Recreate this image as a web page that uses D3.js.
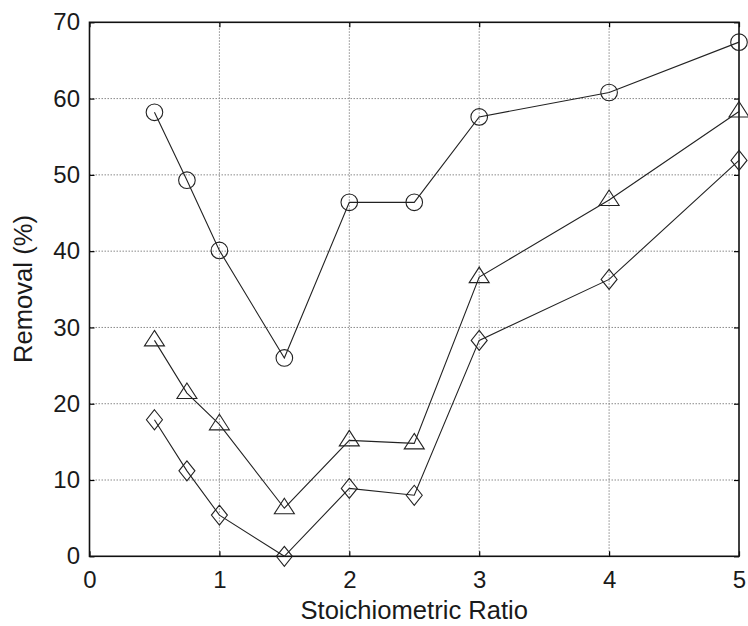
<!DOCTYPE html>
<html>
<head>
<meta charset="utf-8">
<script src="https://cdn.jsdelivr.net/npm/d3@7/dist/d3.min.js"></script>
<style>
  html, body { margin: 0; padding: 0; background: #fff; }
  svg { display: block; font-family: "Liberation Sans", Arial, Helvetica, sans-serif; }
</style>
</head>
<body>
<svg id="chart" width="748" height="626"></svg>
<script>
// Stoichiometric ratio (x) and removal percentages for three series
const ratios = [0.5, 0.75, 1, 1.5, 2, 2.5, 3, 4, 5];
const circleSeries   = [58.2, 49.3, 40.1, 26.0, 46.4, 46.4, 57.6, 60.8, 67.4];
const triangleSeries = [28.3, 21.4, 17.3, 6.3, 15.2, 14.8, 36.6, 46.7, 58.3];
const diamondSeries  = [17.9, 11.2, 5.4, 0.0, 8.9, 8.0, 28.3, 36.3, 51.9];
const xTicks = [0, 1, 2, 3, 4, 5];
const yTicks = [0, 10, 20, 30, 40, 50, 60, 70];
const xTitle = "Stoichiometric Ratio";
const yTitle = "Removal (%)";

const svg = d3.select("#chart");
const plotLeft = 89.5, plotRight = 739, plotTop = 22.3, plotBottom = 556.3;

const x = d3.scaleLinear().domain([0, 5]).range([plotLeft, plotRight]);
const y = d3.scaleLinear().domain([0, 70]).range([plotBottom, plotTop]);

// dotted grid
const grid = svg.append("g");
grid.selectAll("line.gx").data(xTicks.filter(d => d > 0 && d < 5)).join("line")
  .attr("x1", d => x(d)).attr("x2", d => x(d))
  .attr("y1", plotTop).attr("y2", plotBottom)
  .attr("stroke", "#8a8a8a").attr("stroke-width", 1).attr("stroke-dasharray", "1.5,1.5");
grid.selectAll("line.gy").data(yTicks.filter(d => d > 0 && d < 70)).join("line")
  .attr("x1", plotLeft).attr("x2", plotRight)
  .attr("y1", d => y(d)).attr("y2", d => y(d))
  .attr("stroke", "#8a8a8a").attr("stroke-width", 1).attr("stroke-dasharray", "1.5,1.5");

// axes (inward ticks on all four sides)
const tickLen = 5;
const axFont = "24px";
const gB = svg.append("g").attr("transform", `translate(0,${plotBottom})`)
  .call(d3.axisBottom(x).tickValues(xTicks).tickSize(-tickLen).tickPadding(15).tickFormat(d3.format("d")));
const gT = svg.append("g").attr("transform", `translate(0,${plotTop})`)
  .call(d3.axisTop(x).tickValues(xTicks).tickSize(-tickLen).tickFormat(""));
const gL = svg.append("g").attr("transform", `translate(${plotLeft},0)`)
  .call(d3.axisLeft(y).tickValues(yTicks).tickSize(-tickLen).tickPadding(9.5).tickFormat(d3.format("d")));
const gR = svg.append("g").attr("transform", `translate(${plotRight},0)`)
  .call(d3.axisRight(y).tickValues(yTicks).tickSize(-tickLen).tickFormat(""));
[gB, gT, gL, gR].forEach(g => {
  g.select(".domain").remove();
  g.selectAll(".tick line").attr("stroke", "#000").attr("stroke-width", 1.2);
  g.selectAll(".tick text").attr("fill", "#1a1a1a").style("font-size", axFont)
    .style("font-family", "'Liberation Sans', Arial, sans-serif");
});

// box
svg.append("rect").attr("x", plotLeft).attr("y", plotTop)
  .attr("width", plotRight - plotLeft).attr("height", plotBottom - plotTop)
  .attr("fill", "none").attr("stroke", "#111").attr("stroke-width", 1.6);

// titles
svg.append("text").attr("x", (plotLeft + plotRight) / 2).attr("y", 619)
  .attr("text-anchor", "middle").style("font-size", "25.6px").attr("fill", "#1a1a1a")
  .text(xTitle);
svg.append("text").attr("transform", `translate(31.7,289) rotate(-90)`)
  .attr("text-anchor", "middle").style("font-size", "25.6px").attr("fill", "#1a1a1a")
  .text(yTitle);

// series lines and markers
const line = d3.line().x((d, i) => x(ratios[i])).y(d => y(d));
const plot = svg.append("g");
[circleSeries, triangleSeries, diamondSeries].forEach(s => {
  plot.append("path").datum(s).attr("d", line)
    .attr("fill", "none").attr("stroke", "#222").attr("stroke-width", 1.1);
});

plot.selectAll("circle.m").data(circleSeries).join("circle")
  .attr("cx", (d, i) => x(ratios[i])).attr("cy", d => y(d)).attr("r", 8.3)
  .attr("fill", "none").attr("stroke", "#222").attr("stroke-width", 1.1);

plot.selectAll("path.tri").data(triangleSeries).join("path")
  .attr("d", (d, i) => {
    const cx = x(ratios[i]), cy = y(d);
    return `M${cx},${cy - 10}L${cx + 10},${cy + 5.5}L${cx - 10},${cy + 5.5}Z`;
  })
  .attr("fill", "none").attr("stroke", "#222").attr("stroke-width", 1.1);

plot.selectAll("path.dia").data(diamondSeries).join("path")
  .attr("d", (d, i) => {
    const cx = x(ratios[i]), cy = y(d);
    return `M${cx},${cy - 10}L${cx + 8},${cy}L${cx},${cy + 10}L${cx - 8},${cy}Z`;
  })
  .attr("fill", "none").attr("stroke", "#222").attr("stroke-width", 1.1);
</script>
</body>
</html>
